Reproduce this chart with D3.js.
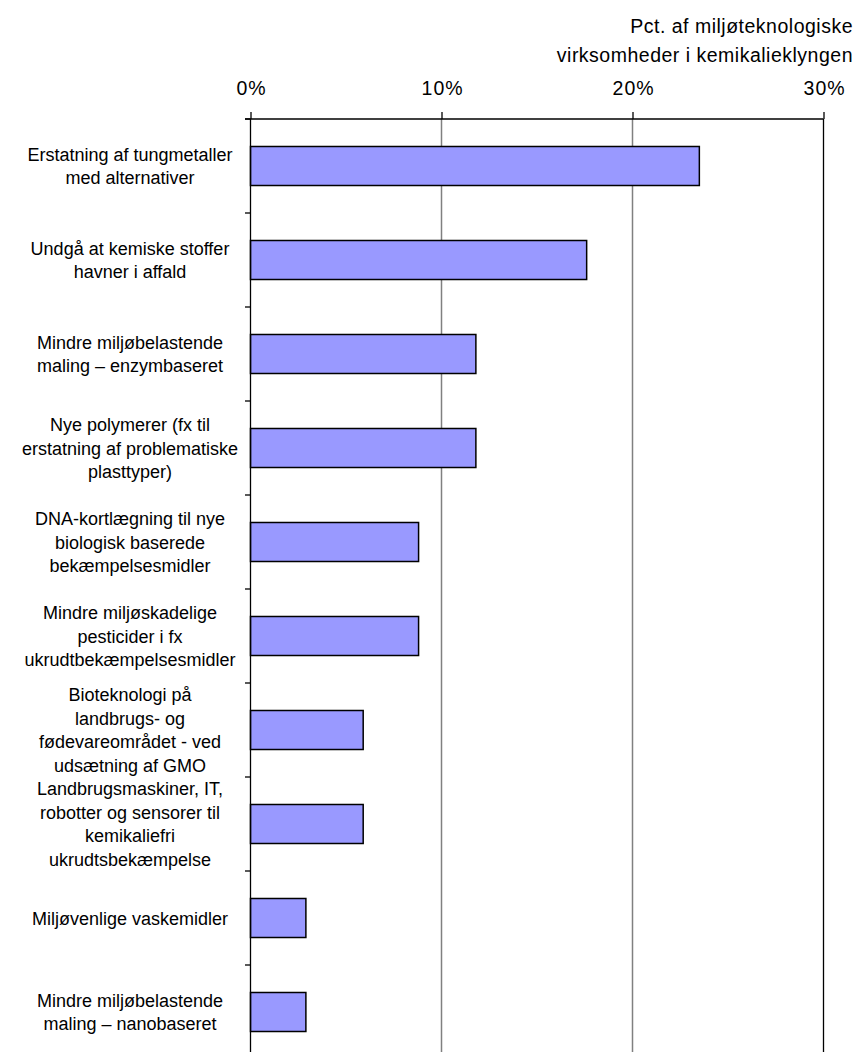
<!DOCTYPE html>
<html>
<head>
<meta charset="utf-8">
<script src="https://cdn.jsdelivr.net/npm/d3@7/dist/d3.min.js"></script>
<style>
  html, body { margin: 0; padding: 0; background: #fff; }
  svg { display: block; font-family: "Liberation Sans", Arial, sans-serif; }
</style>
</head>
<body>
<svg id="chart" width="858" height="1052"></svg>
<script>
// ---- data ----
const categories = [
  ["Erstatning af tungmetaller", "med alternativer"],
  ["Undgå at kemiske stoffer", "havner i affald"],
  ["Mindre miljøbelastende", "maling – enzymbaseret"],
  ["Nye polymerer (fx til", "erstatning af problematiske", "plasttyper)"],
  ["DNA-kortlægning til nye", "biologisk baserede", "bekæmpelsesmidler"],
  ["Mindre miljøskadelige", "pesticider i fx", "ukrudtbekæmpelsesmidler"],
  ["Bioteknologi på", "landbrugs- og", "fødevareområdet - ved", "udsætning af GMO"],
  ["Landbrugsmaskiner, IT,", "robotter og sensorer til", "kemikaliefri", "ukrudtsbekæmpelse"],
  ["Miljøvenlige vaskemidler"],
  ["Mindre miljøbelastende", "maling – nanobaseret"]
];
const values = [23.5, 17.6, 11.8, 11.8, 8.8, 8.8, 5.9, 5.9, 2.9, 2.9];
const tickValues = [0, 10, 20, 30];
const axisTitle = ["Pct. af miljøteknologiske", "virksomheder i kemikalieklyngen"];

// ---- layout ----
const svg = d3.select("#chart");
const x0 = 250.5, x1 = 823.5, yTop = 119, yBottom = 1059;
const x = d3.scaleLinear().domain([0, 30]).range([x0, x1]);
const keys = categories.map((d, i) => i);
const y = d3.scaleBand().domain(keys).range([yTop, yBottom])
  .paddingInner(0.585).paddingOuter(0.2925);
const step = y.step();

// gridlines (10%, 20%)
svg.append("g").selectAll("line")
  .data(tickValues.filter(v => v > 0 && v < 30))
  .join("line")
  .attr("x1", d => x(d)).attr("x2", d => x(d))
  .attr("y1", yTop).attr("y2", yBottom)
  .attr("stroke", "#808080").attr("stroke-width", 1.5);

// right border of plot (30%)
svg.append("line")
  .attr("x1", x(30)).attr("x2", x(30))
  .attr("y1", yTop).attr("y2", yBottom)
  .attr("stroke", "#000").attr("stroke-width", 1.3);

// bars
svg.append("g").selectAll("rect")
  .data(values)
  .join("rect")
  .attr("x", x(0))
  .attr("y", (d, i) => y(i))
  .attr("width", d => x(d) - x(0))
  .attr("height", y.bandwidth())
  .attr("fill", "#9999FF")
  .attr("stroke", "#000")
  .attr("stroke-width", 1.5);

// top axis
const xAxis = d3.axisTop(x).tickValues(tickValues)
  .tickFormat(d => d + "%").tickSize(7).tickSizeOuter(0);
const gx = svg.append("g").attr("transform", `translate(0,${yTop})`).call(xAxis);
gx.select(".domain").remove();
gx.selectAll(".tick line").attr("stroke", "#000").attr("stroke-width", 1.3);
gx.selectAll(".tick text")
  .attr("y", -24)
  .attr("dy", 0)
  .attr("dx", 0.6)
  .attr("fill", "#000")
  .style("font-size", "19.5px")
  .style("letter-spacing", "1.1px")
  .style("font-family", "'Liberation Sans', Arial, sans-serif");
svg.append("line")
  .attr("x1", x(0) - 5.5).attr("x2", x(30))
  .attr("y1", yTop).attr("y2", yTop)
  .attr("stroke", "#000").attr("stroke-width", 1.3);

// left axis
svg.append("line")
  .attr("x1", x(0)).attr("x2", x(0))
  .attr("y1", yTop).attr("y2", yBottom)
  .attr("stroke", "#000").attr("stroke-width", 1.3);
svg.append("g").selectAll("line")
  .data(d3.range(categories.length + 1))
  .join("line")
  .attr("x1", x(0) - 5.5).attr("x2", x(0))
  .attr("y1", i => yTop + i * step).attr("y2", i => yTop + i * step)
  .attr("stroke", "#000").attr("stroke-width", 1.3);

// category labels
const lh = 23.5;
const lab = svg.append("g").selectAll("text")
  .data(categories)
  .join("text")
  .attr("text-anchor", "middle")
  .attr("fill", "#000")
  .style("font-size", "18px");
lab.each(function(lines, i) {
  const cy = y(i) + y.bandwidth() / 2;
  const first = cy - (lines.length - 1) * lh / 2 + 6.5;
  d3.select(this).selectAll("tspan")
    .data(lines)
    .join("tspan")
    .attr("x", 130)
    .attr("y", (d, j) => first + j * lh)
    .text(d => d);
});

// axis title
svg.append("text")
  .attr("text-anchor", "end")
  .attr("fill", "#000")
  .style("font-size", "19.5px")
  .style("letter-spacing", "0.5px")
  .selectAll("tspan")
  .data(axisTitle)
  .join("tspan")
  .attr("x", 853)
  .attr("y", (d, j) => 33 + j * 29)
  .text(d => d);
</script>
</body>
</html>
